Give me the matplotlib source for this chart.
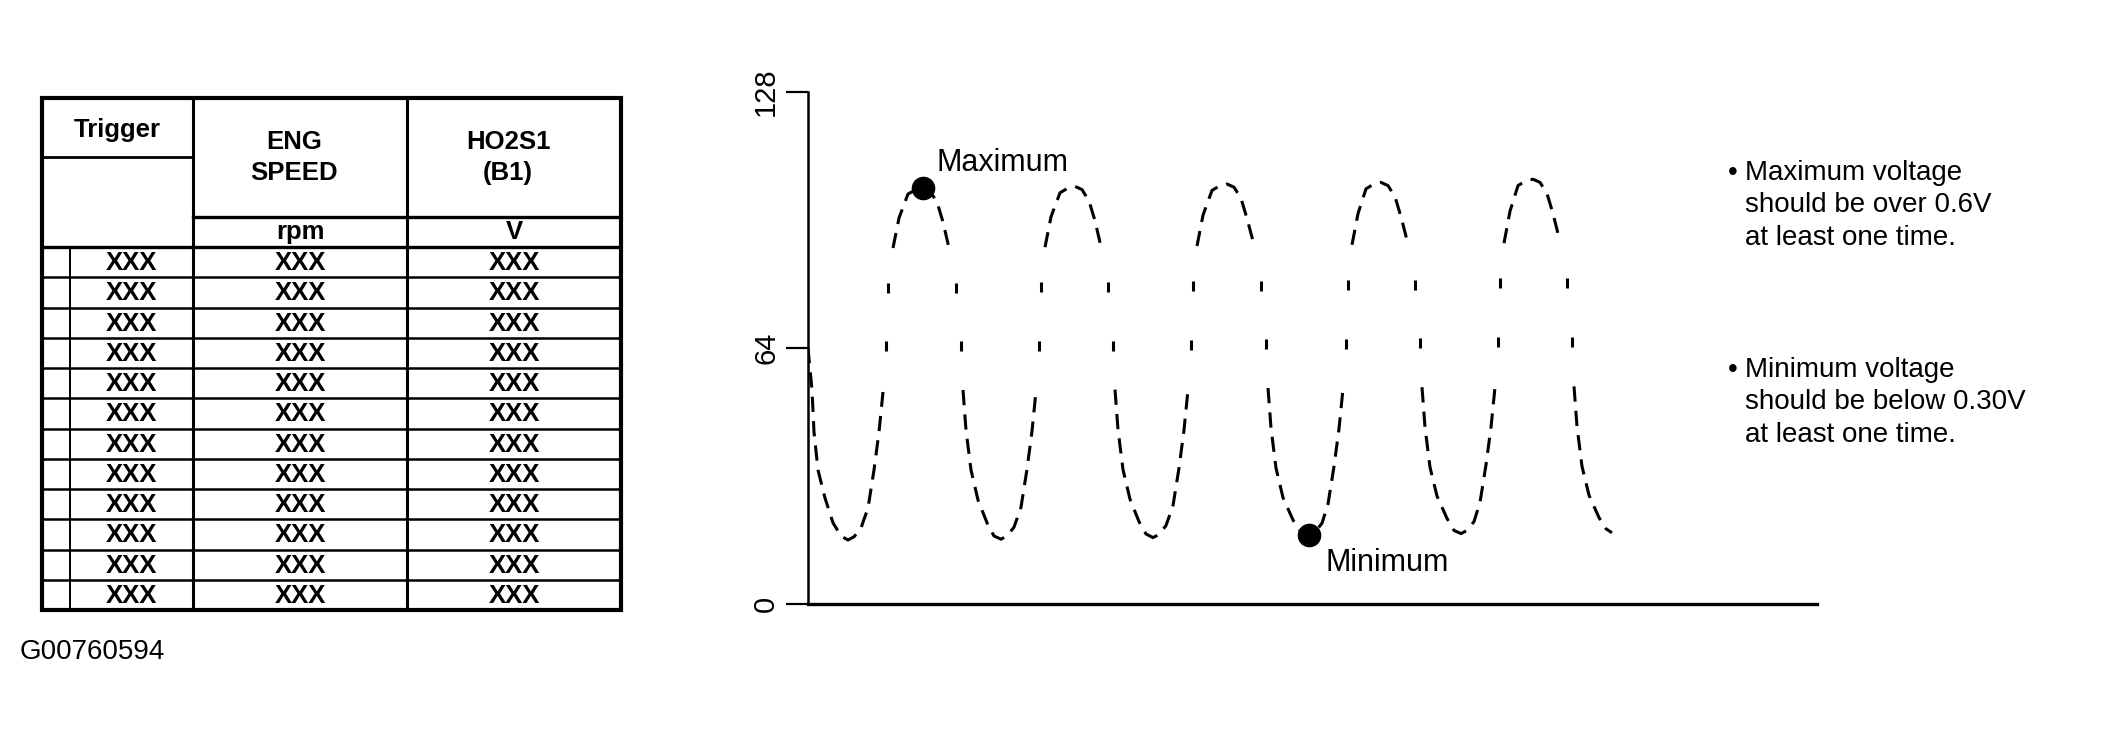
import numpy as np
import matplotlib.pyplot as plt
from matplotlib.patches import Rectangle

plt.rcParams["font.family"] = ["Liberation Sans", "DejaVu Sans"]

# ---- data ----
trigger_label = "Trigger"
col_headers = ["ENG\nSPEED", "HO2S1\n(B1)"]
col_units = ["rpm", "V"]
trigger_vals = ["XXX"] * 12
eng_speed_vals = ["XXX"] * 12
ho2s1_vals = ["XXX"] * 12

y_ticks = [0, 64, 128]

# HO2S1 signal trace (time in arbitrary units, value in 0..128 counts)
curve_x = [
    0.0, 0.4, 0.6, 1.0, 1.7, 2.5, 3.3, 4.0,
    4.6, 5.3, 6.0, 6.6, 7.1, 7.5, 7.8, 8.0, 8.5, 9.1, 10.0, 10.8, 11.5,
    12.2, 12.9, 13.5, 14.1, 14.8, 15.3, 15.5, 15.8, 16.3, 17.0, 17.9, 18.6, 19.3,
    19.9, 20.6, 21.3, 21.9, 22.4, 22.8, 23.1, 23.3, 23.7, 24.3, 25.2, 26.0, 26.7,
    27.4, 28.1, 28.7, 29.3, 30.0, 30.5, 30.7, 31.0, 31.5, 32.2, 33.1, 33.8, 34.5,
    35.1, 35.8, 36.5, 37.1, 37.6, 38.0, 38.3, 38.5, 38.9, 39.5, 40.4, 41.2, 41.9,
    42.6, 43.3, 43.9, 44.6, 45.3, 45.8, 46.0, 46.3, 46.8, 47.5, 48.5, 49.3, 50.1,
    50.7, 51.4, 52.0, 52.6, 53.1, 53.5, 53.8, 54.0, 54.4, 55.0, 55.8, 56.6, 57.3,
    58.0, 58.7, 59.3, 60.0, 60.7, 61.2, 61.4, 61.7, 62.2, 62.9, 63.9, 64.6, 65.3,
    65.9, 66.6, 67.2, 67.8, 68.3, 68.7, 69.0, 69.2, 69.6, 70.2, 71.0, 71.8, 72.5,
    73.2, 73.9, 74.5, 75.2, 75.9, 76.4, 76.6, 76.9, 77.4, 78.1, 79.1, 79.8, 80.4,
]
curve_y = [
    64.0, 53.5, 43.0, 33.5, 26.5, 20.3, 17.0, 16.0,
    16.8, 19.0, 24.0, 33.5, 43.0, 53.0, 64.5, 79.0, 89.0, 96.5, 102.5, 103.6, 104.0,
    103.2, 100.5, 95.5, 89.0, 79.0, 64.5, 53.5, 43.5, 33.5, 26.0, 20.3, 17.0, 16.2,
    17.0, 19.2, 24.2, 33.7, 43.2, 53.2, 64.6, 79.2, 89.2, 96.8, 102.8, 104.0, 104.4,
    103.6, 100.8, 95.8, 89.3, 79.2, 64.6, 53.6, 43.6, 33.6, 26.2, 20.6, 17.5, 16.6,
    17.4, 19.6, 24.6, 34.0, 43.5, 53.5, 64.8, 79.5, 89.5, 97.2, 103.4, 104.6, 105.0,
    104.2, 101.4, 96.4, 89.8, 79.6, 65.0, 54.0, 44.0, 34.0, 26.6, 21.0, 18.0, 17.2,
    18.0, 20.2, 25.0, 34.4, 43.8, 53.8, 65.0, 79.8, 89.8, 97.6, 103.8, 105.0, 105.4,
    104.6, 101.8, 96.8, 90.0, 79.8, 65.2, 54.2, 44.2, 34.2, 27.0, 21.4, 18.4, 17.6,
    18.4, 20.6, 25.4, 34.8, 44.2, 54.2, 65.4, 80.2, 90.2, 98.2, 104.6, 105.8, 106.2,
    105.4, 102.6, 97.6, 90.6, 80.2, 65.4, 54.4, 44.4, 34.4, 27.2, 21.6, 18.8, 17.8,
]
max_point = (11.5, 104.0)
min_point = (50.1, 17.2)

notes = [
    "Maximum voltage\nshould be over 0.6V\nat least one time.",
    "Minimum voltage\nshould be below 0.30V\nat least one time.",
]
figure_id = "G00760594"

# ---- figure ----
W, H = 2115, 735
fig = plt.figure(figsize=(W / 100, H / 100), dpi=100)

# table on the left (drawn in pixel-like units)
tl, tt, tw, th = 42, 98, 579, 512
ax_t = fig.add_axes([tl / W, 1 - (tt + th) / H, tw / W, th / H])
ax_t.set_xlim(0, tw)
ax_t.set_ylim(th, 0)
ax_t.axis("off")

col_edges = [0, 151, 365, tw]
sub_edge = 28
label_bottom, head_bottom, unit_bottom = 59, 119, 149
row_h = (th - unit_bottom) / len(trigger_vals)

ax_t.add_patch(Rectangle((0, 0), tw, th, fill=False, lw=3, ec="black", clip_on=False))
for xe in col_edges[1:-1]:
    ax_t.plot([xe, xe], [0, th], color="black", lw=2.2, solid_capstyle="butt")
ax_t.plot([0, col_edges[1]], [label_bottom, label_bottom], color="black", lw=2)
ax_t.plot([col_edges[1], tw], [head_bottom, head_bottom], color="black", lw=2.4)
ax_t.plot([0, tw], [unit_bottom, unit_bottom], color="black", lw=2.4)
for k in range(1, len(trigger_vals)):
    yy = unit_bottom + k * row_h
    ax_t.plot([0, tw], [yy, yy], color="black", lw=1.8)
ax_t.plot([sub_edge, sub_edge], [unit_bottom, th], color="black", lw=1.4)

txt = dict(ha="center", va="center", fontsize=18.5, fontweight="bold")
ax_t.text(col_edges[1] / 2, label_bottom / 2 + 2, trigger_label, **txt)
for i, (hd, un) in enumerate(zip(col_headers, col_units)):
    cx = (col_edges[i + 1] + col_edges[i + 2]) / 2 - 6
    ax_t.text(cx, head_bottom / 2, hd, linespacing=1.4, **txt)
    ax_t.text(cx + 6, (head_bottom + unit_bottom) / 2, un, **txt)
col_x = [(sub_edge + col_edges[1]) / 2,
         (col_edges[1] + col_edges[2]) / 2,
         (col_edges[2] + col_edges[3]) / 2]
for r, vals in enumerate(zip(trigger_vals, eng_speed_vals, ho2s1_vals)):
    cy = unit_bottom + (r + 0.5) * row_h
    for cx, v in zip(col_x, vals):
        ax_t.text(cx, cy + 1, v, **txt)

fig.text(20 / W, 1 - 652 / H, figure_id, fontsize=20, ha="left", va="center")

# waveform chart
ax = fig.add_axes([808 / W, 1 - 604 / H, (1817 - 808) / W, (604 - 92) / H])
ax.set_xlim(0, 100.9)
ax.set_ylim(0, 128)
for s in ["top", "right"]:
    ax.spines[s].set_visible(False)
ax.spines["left"].set_linewidth(1.8)
ax.spines["bottom"].set_linewidth(2.4)
ax.set_xticks([])
ax.set_yticks(y_ticks)
ax.set_yticklabels([str(t) for t in y_ticks], rotation=90, va="center", fontsize=21)
ax.tick_params(axis="y", direction="out", length=16, width=1.6, pad=4)

cx_arr = np.array(curve_x)
cy_arr = np.array(curve_y)
gap = (cy_arr > 56) & (cy_arr < 88)
gap[0] = False
ax.plot(cx_arr, np.where(gap, np.nan, cy_arr), color="black", lw=2.2,
        dashes=(5, 3))
ax.plot(cx_arr[gap], cy_arr[gap], ls="none", marker="|", ms=7, mew=2.2,
        color="black")

ax.plot(*max_point, "o", color="black", ms=16)
ax.plot(*min_point, "o", color="black", ms=16)
ax.annotate("Maximum", xy=max_point, xytext=(10, 12), textcoords="offset points",
            fontsize=22, ha="left", va="baseline")
ax.annotate("Minimum", xy=min_point, xytext=(12, -26), textcoords="offset points",
            fontsize=22, ha="left", va="baseline")

# notes on the right
for note, top in zip(notes, [160, 357]):
    fig.text(1728 / W, 1 - top / H, "\u2022", fontsize=20, ha="left", va="top")
    fig.text(1745 / W, 1 - top / H, note, fontsize=20, ha="left", va="top",
             linespacing=1.32)

fig.savefig("out.png", dpi=100)
